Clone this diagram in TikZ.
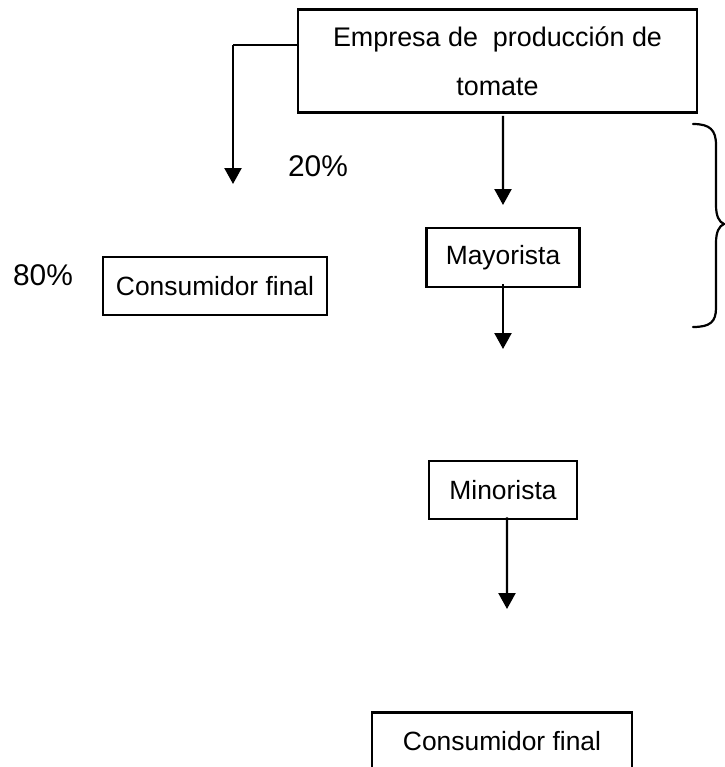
\documentclass[tikz,border=0pt]{standalone}
\usepackage{fontspec}
\setmainfont{Liberation Sans}
\usetikzlibrary{arrows.meta}
\begin{document}
\begin{tikzpicture}[x=1bp,y=-1bp,
  box/.style={draw,line width=2.5bp,inner sep=0pt,font=\fontsize{26.5}{32}\selectfont},
  arr/.style={line width=2.3bp,-{Triangle[width=17bp,length=16bp]}},
  pct/.style={font=\fontsize{30}{36}\selectfont,inner sep=0pt}]
\useasboundingbox (0,0) rectangle (725,767);
\clip (0,0) rectangle (725,767);

% boxes
\node[box,minimum width=399bp,minimum height=103bp,align=center,
      font=\fontsize{27}{47}\selectfont] (emp) at (497.5,61)
      {Empresa de\ \ producción de\\[0pt]\raisebox{-2bp}{tomate}};
\node[box,minimum width=224bp,minimum height=58bp] (cf1) at (215,286) {Consumidor final};
\node[box,minimum width=153bp,minimum height=59bp] (may) at (503,257.5) {Mayorista};
\node[box,minimum width=148bp,minimum height=58bp] (min) at (503,490) {Minorista};
\node[box,minimum width=260bp,minimum height=62bp,anchor=north] (cf2) at (502,711)
      {\raisebox{5bp}{Consumidor final}};

% percentages
\node[pct] (p20) at (318,166) {20\%};
\node[pct] (p80) at (43,275) {80\%};

% left branch
\coordinate (c1) at (233,45);
\coordinate (t1) at (233,184);
\draw[line width=1.6bp] (emp.west |- c1) -- (c1);
\draw[arr] (c1) -- (t1);

% main chain
\coordinate (t2) at (503,205);
\draw[arr] ([xshift=5.5bp,yshift=-2bp]emp.south) -- (t2);
\coordinate (t3) at (503,349);
\draw[arr] ([yshift=4bp]may.south) -- (t3);
\coordinate (t4) at (507,609);
\draw[arr] ([xshift=4bp,yshift=3bp]min.south) -- (t4);

% brace
\draw[line width=2.2bp,line cap=round]
  (693,124) .. controls (710,124) and (716,130) .. (716,145)
  -- (716,205) .. controls (716,216) and (719,222) .. (724,224)
  .. controls (719,226) and (716,232) .. (716,243)
  -- (716,308) .. controls (716,322) and (710,327) .. (693,327);
\end{tikzpicture}
\end{document}
